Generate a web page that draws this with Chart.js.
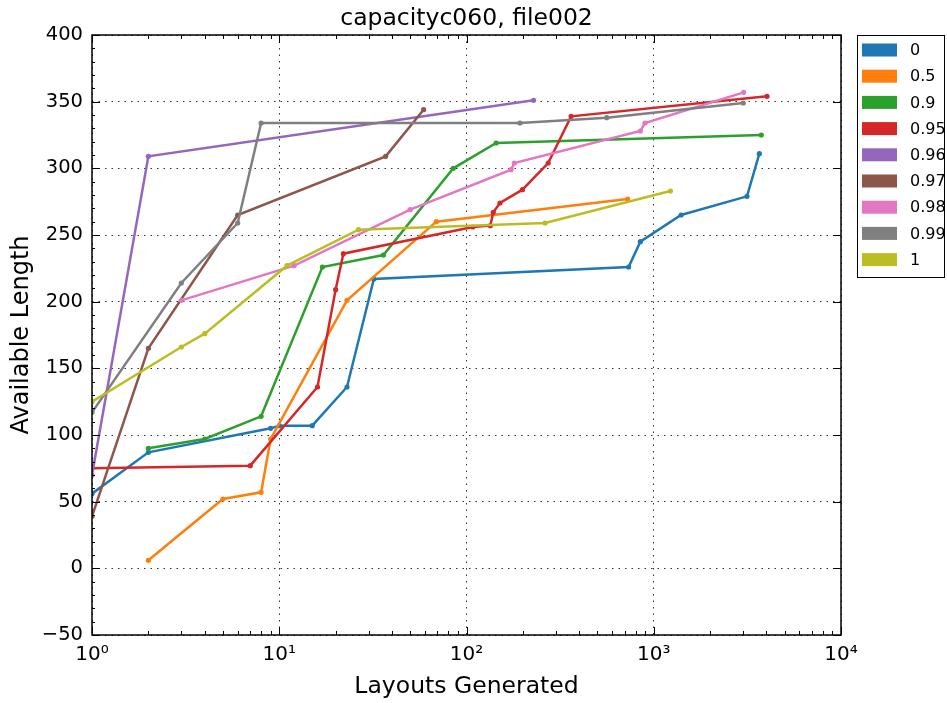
<!DOCTYPE html>
<html>
<head>
<meta charset="utf-8">
<script src="https://cdn.jsdelivr.net/npm/chart.js@4/dist/chart.umd.min.js"></script>
<style>
  html, body { margin: 0; padding: 0; background: #fff; }
  #wrap { width: 947px; height: 703px; position: relative; }
</style>
</head>
<body>
<div id="wrap"><canvas id="chart"></canvas></div>
<script>
// Series labels (capacity factor)
const seriesNames = ['0', '0.5', '0.9', '0.95', '0.96', '0.97', '0.98', '0.99', '1'];

// Layouts generated (x) and available length (y) for each series
const x0 = [1, 2, 9, 10, 15, 23, 32, 734, 848, 1400, 3147, 3664];
const y0 = [56, 87, 105, 107, 107, 136, 217, 226, 245, 265, 279, 311];

const x05 = [2, 5, 8, 9, 23, 69, 726];
const y05 = [6, 52, 57, 97, 201, 260, 277];

const x09 = [2, 4, 8, 17, 36, 85, 144, 3753];
const y09 = [90, 97, 114, 226, 235, 300, 319, 325];

const x095 = [1, 7, 16, 20, 22, 108, 134, 139, 151, 199, 273, 362, 4027];
const y095 = [75, 77, 136, 209, 236, 256, 257, 267, 274, 284, 304, 339, 354];

const x096 = [1, 2, 228];
const y096 = [70, 309, 351];

const x097 = [1, 2, 6, 37, 59];
const y097 = [39, 165, 265, 309, 344];

const x098 = [3, 12, 50, 173, 180, 848, 898, 3020];
const y098 = [201, 227, 269, 299, 304, 328, 334, 357];

const x099 = [1, 3, 6, 8, 193, 561, 3007];
const y099 = [117, 214, 259, 334, 334, 338, 349];

const x1 = [1, 3, 4, 11, 26.5, 263, 1227];
const y1 = [125, 166, 176, 227, 254, 259, 283];

const xSeries = [x0, x05, x09, x095, x096, x097, x098, x099, x1];
const ySeries = [y0, y05, y09, y095, y096, y097, y098, y099, y1];

// Axis tick values
const xMajorTicks = [1, 10, 100, 1000, 10000];
const yTicks = [-50, 0, 50, 100, 150, 200, 250, 300, 350, 400];

const palette = ['#1f77b4', '#ff7f0e', '#2ca02c', '#d62728', '#9467bd',
                 '#8c564b', '#e377c2', '#7f7f7f', '#bcbd22'];

const SUP = ['\u2070', '\u00b9', '\u00b2', '\u00b3', '\u2074'];
const FONT = "'DejaVu Sans', sans-serif";

const datasets = seriesNames.map((name, i) => ({
  label: name,
  data: xSeries[i].map((x, j) => ({ x: x, y: ySeries[i][j] })),
  borderColor: palette[i],
  backgroundColor: palette[i],
  borderWidth: 2.5,
  pointRadius: 2.6,
  pointHoverRadius: 2.6,
  pointBorderWidth: 0,
  tension: 0,
  // later series are painted on top of earlier ones
  order: seriesNames.length - i
}));

// Frame, inward ticks, title and boxed legend
const decorations = {
  id: 'decorations',
  afterDatasetsDraw(chart) {
    const { ctx, chartArea: a, scales } = chart;
    const xs = scales.x, ys = scales.y;
    ctx.save();
    ctx.strokeStyle = '#000';

    // inward ticks
    ctx.lineWidth = 1;
    ctx.beginPath();
    xMajorTicks.forEach(v => {
      const px = Math.round(xs.getPixelForValue(v)) + 0.5;
      ctx.moveTo(px, a.bottom); ctx.lineTo(px, a.bottom - 8);
      ctx.moveTo(px, a.top); ctx.lineTo(px, a.top + 8);
    });
    for (let d = 1; d < 10000; d *= 10) {
      for (let m = 2; m <= 9; m++) {
        const px = Math.round(xs.getPixelForValue(d * m)) + 0.5;
        ctx.moveTo(px, a.bottom); ctx.lineTo(px, a.bottom - 4);
        ctx.moveTo(px, a.top); ctx.lineTo(px, a.top + 4);
      }
    }
    yTicks.forEach(v => {
      const py = Math.round(ys.getPixelForValue(v)) + 0.5;
      ctx.moveTo(a.left, py); ctx.lineTo(a.left + 8, py);
      ctx.moveTo(a.right, py); ctx.lineTo(a.right - 8, py);
    });
    for (let v = -40; v < 400; v += 10) {
      if (v % 50 === 0) continue;
      const py = Math.round(ys.getPixelForValue(v)) + 0.5;
      ctx.moveTo(a.left, py); ctx.lineTo(a.left + 3, py);
    }
    ctx.stroke();

    // frame
    ctx.lineWidth = 1.5;
    ctx.strokeRect(a.left, a.top, a.right - a.left, a.bottom - a.top);

    // title
    ctx.fillStyle = '#000';
    ctx.font = '23.5px ' + FONT;
    ctx.textAlign = 'center';
    ctx.textBaseline = 'alphabetic';
    ctx.fillText('capacityc060, file002', (a.left + a.right) / 2, 25);

    // legend
    const lx = 857, ly = 35, lw = 87, lh = 242;
    ctx.fillStyle = '#fff';
    ctx.fillRect(lx, ly, lw, lh);
    ctx.lineWidth = 1;
    ctx.strokeStyle = '#000';
    ctx.strokeRect(lx + 0.5, ly + 0.5, lw, lh);
    ctx.font = '16px ' + FONT;
    ctx.textAlign = 'left';
    ctx.textBaseline = 'middle';
    chart.data.datasets.forEach((ds, i) => {
      const cy = ly + 15 + i * 26.2;
      ctx.fillStyle = ds.borderColor;
      ctx.fillRect(862, cy - 6.5, 35, 13);
      ctx.fillStyle = '#000';
      ctx.fillText(ds.label, 910, cy + 1);
    });
    ctx.restore();
  }
};

new Chart(document.getElementById('chart'), {
  type: 'line',
  data: { datasets: datasets },
  options: {
    responsive: true,
    maintainAspectRatio: false,
    animation: false,
    events: [],
    layout: { padding: { top: 35, right: 106, left: 0, bottom: 0 } },
    plugins: {
      legend: { display: false },
      title: { display: false },
      tooltip: { enabled: false }
    },
    scales: {
      x: {
        type: 'logarithmic',
        position: 'bottom',
        min: 1,
        max: 10000,
        afterBuildTicks: s => { s.ticks = xMajorTicks.map(v => ({ value: v, major: true })); },
        afterFit: s => { s.height = 68; },
        ticks: {
          autoSkip: false,
          maxRotation: 0,
          padding: 8,
          color: '#000',
          font: { family: FONT, size: 20 },
          callback: v => '10' + SUP[Math.round(Math.log10(v))]
        },
        grid: { color: 'rgba(0,0,0,0.8)', lineWidth: 1, drawTicks: false },
        border: { display: false, dash: [1.5, 5] },
        title: {
          display: true,
          text: 'Layouts Generated',
          color: '#000',
          font: { family: FONT, size: 23.5 },
          padding: { top: 0, bottom: 2 }
        }
      },
      y: {
        type: 'linear',
        position: 'left',
        min: -50,
        max: 400,
        afterBuildTicks: s => { s.ticks = yTicks.map(v => ({ value: v })); },
        afterFit: s => { s.width = 92; },
        ticks: {
          autoSkip: false,
          padding: 9,
          color: '#000',
          font: { family: FONT, size: 19.5 },
          callback: v => (v < 0 ? '\u2212' + Math.abs(v) : String(v))
        },
        grid: { color: 'rgba(0,0,0,0.8)', lineWidth: 1, drawTicks: false },
        border: { display: false, dash: [1.5, 5] },
        title: {
          display: true,
          text: 'Available Length',
          color: '#000',
          font: { family: FONT, size: 24 },
          padding: { top: 7, bottom: 0 }
        }
      }
    }
  },
  plugins: [decorations]
});
</script>
</body>
</html>
